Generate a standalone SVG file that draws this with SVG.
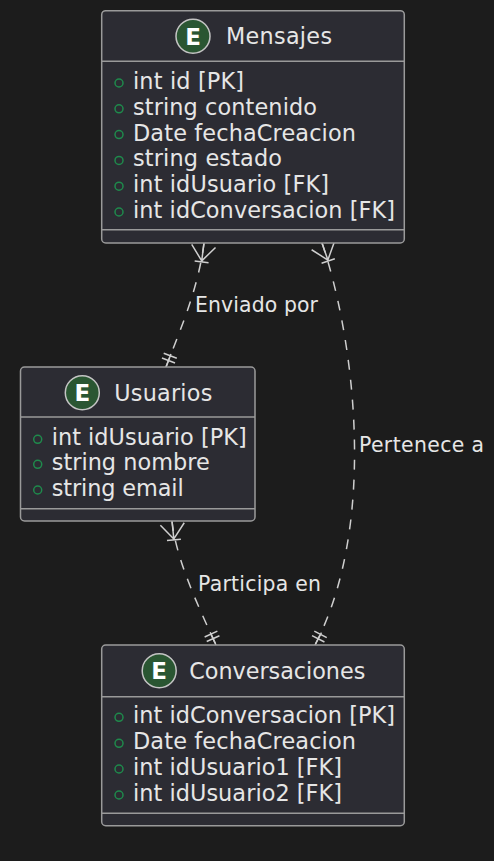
<svg xmlns="http://www.w3.org/2000/svg" width="494" height="861" viewBox="0 0 494 861">
<style>
.bg{fill:#1c1c1c}
.box{fill:#2c2c33;stroke:#9a9a9a;stroke-width:1.5}
.div{stroke:#9a9a9a;stroke-width:1.5}
.ecirc{fill:#2a5632;stroke:#c4c4c4;stroke-width:1.5}
.eglyph{font-family:"DejaVu Sans",sans-serif;font-weight:bold;font-size:23px;fill:#ffffff;text-anchor:middle}
.title{font-family:"DejaVu Sans",sans-serif;font-size:22.3px;fill:#e6e6e6}
.attr{font-family:"DejaVu Sans",sans-serif;font-size:22.4px;fill:#e6e6e6}
.vis{fill:none;stroke:#1f8a4c;stroke-width:1.5}
.lbl{font-family:"DejaVu Sans",sans-serif;font-size:20.4px;fill:#e6e6e6}
.rel{fill:none;stroke:#cfcfcf;stroke-width:1.5;stroke-dasharray:10,10}
.mk{fill:none;stroke:#cfcfcf;stroke-width:1.5}
</style>
<defs>
<marker id="many" markerUnits="userSpaceOnUse" orient="auto" overflow="visible" markerWidth="1" markerHeight="1" refX="0" refY="0">
<path class="mk" d="M0,0 L18,0 M18,0 L3,-12 M18,0 L3,12 M19,-7 L19,7"/>
</marker>
<marker id="one" markerUnits="userSpaceOnUse" orient="auto" overflow="visible" markerWidth="1" markerHeight="1" refX="0" refY="0">
<path class="mk" d="M-14,0 L0,0 M-7,-7 L-7,7 M-12,-7 L-12,7"/>
</marker>
</defs>
<rect class="bg" x="0" y="0" width="494" height="861"/>

<g id="connectors">
<path id="rel-enviado" class="rel" d="M204,243 C198,290 180,330 166,367" marker-start="url(#many)" marker-end="url(#one)"/>
<path id="rel-pertenece" class="rel" d="M322,243 C352,330 380,520 315,645" marker-start="url(#many)" marker-end="url(#one)"/>
<path id="rel-participa" class="rel" d="M172,521 C176,560 200,610 216,645" marker-start="url(#many)" marker-end="url(#one)"/>
<text class="lbl" x="195" y="312" textLength="123" lengthAdjust="spacing">Enviado por</text>
<text class="lbl" x="359" y="452" textLength="125" lengthAdjust="spacing">Pertenece a</text>
<text class="lbl" x="198" y="591" textLength="123" lengthAdjust="spacing">Participa en</text>
</g>

<g id="Mensajes">
<rect class="box" x="101.7" y="10.7" width="302.6" height="232.3" rx="4" ry="4"/>
<line class="div" x1="101.7" y1="61.3" x2="404.3" y2="61.3"/>
<line class="div" x1="101.7" y1="229.7" x2="404.3" y2="229.7"/>
<circle class="ecirc" cx="193" cy="36.3" r="17"/>
<text class="eglyph" x="193" y="44.5">E</text>
<text class="title" x="226" y="44" textLength="106" lengthAdjust="spacing">Mensajes</text>
<circle class="vis" cx="119" cy="83" r="4"/>
<circle class="vis" cx="119" cy="108.8" r="4"/>
<circle class="vis" cx="119" cy="134.6" r="4"/>
<circle class="vis" cx="119" cy="160.4" r="4"/>
<circle class="vis" cx="119" cy="186.2" r="4"/>
<circle class="vis" cx="119" cy="212" r="4"/>
<text class="attr" x="133" y="89" textLength="111" lengthAdjust="spacing">int id [PK]</text>
<text class="attr" x="133" y="114.8" textLength="184" lengthAdjust="spacing">string contenido</text>
<text class="attr" x="133" y="140.6" textLength="223" lengthAdjust="spacing">Date fechaCreacion</text>
<text class="attr" x="133" y="166.4" textLength="149" lengthAdjust="spacing">string estado</text>
<text class="attr" x="133" y="192.2" textLength="196" lengthAdjust="spacing">int idUsuario [FK]</text>
<text class="attr" x="133" y="218" textLength="262" lengthAdjust="spacing">int idConversacion [FK]</text>
</g>

<g id="Usuarios">
<rect class="box" x="20.5" y="367" width="234.5" height="154" rx="4" ry="4"/>
<line class="div" x1="20.5" y1="417" x2="255" y2="417"/>
<line class="div" x1="20.5" y1="508.7" x2="255" y2="508.7"/>
<circle class="ecirc" cx="82.3" cy="392.8" r="17"/>
<text class="eglyph" x="82.3" y="401">E</text>
<text class="title" x="114.3" y="401.3" textLength="98" lengthAdjust="spacing">Usuarios</text>
<circle class="vis" cx="37.7" cy="439.3" r="4"/>
<circle class="vis" cx="37.7" cy="464.3" r="4"/>
<circle class="vis" cx="37.7" cy="490" r="4"/>
<text class="attr" x="51.7" y="445.3" textLength="195" lengthAdjust="spacing">int idUsuario [PK]</text>
<text class="attr" x="51.7" y="470.3" textLength="158" lengthAdjust="spacing">string nombre</text>
<text class="attr" x="51.7" y="496" textLength="132" lengthAdjust="spacing">string email</text>
</g>

<g id="Conversaciones">
<rect class="box" x="101.7" y="645" width="302.6" height="180.7" rx="4" ry="4"/>
<line class="div" x1="101.7" y1="696.7" x2="404.3" y2="696.7"/>
<line class="div" x1="101.7" y1="813.3" x2="404.3" y2="813.3"/>
<circle class="ecirc" cx="159.2" cy="670.8" r="17"/>
<text class="eglyph" x="159.2" y="679">E</text>
<text class="title" x="189.3" y="679" textLength="176" lengthAdjust="spacing">Conversaciones</text>
<circle class="vis" cx="119" cy="717.3" r="4"/>
<circle class="vis" cx="119" cy="743.3" r="4"/>
<circle class="vis" cx="119" cy="769" r="4"/>
<circle class="vis" cx="119" cy="795" r="4"/>
<text class="attr" x="133" y="723.3" textLength="262" lengthAdjust="spacing">int idConversacion [PK]</text>
<text class="attr" x="133" y="749.3" textLength="223" lengthAdjust="spacing">Date fechaCreacion</text>
<text class="attr" x="133" y="775" textLength="209" lengthAdjust="spacing">int idUsuario1 [FK]</text>
<text class="attr" x="133" y="801" textLength="209" lengthAdjust="spacing">int idUsuario2 [FK]</text>
</g>
</svg>
